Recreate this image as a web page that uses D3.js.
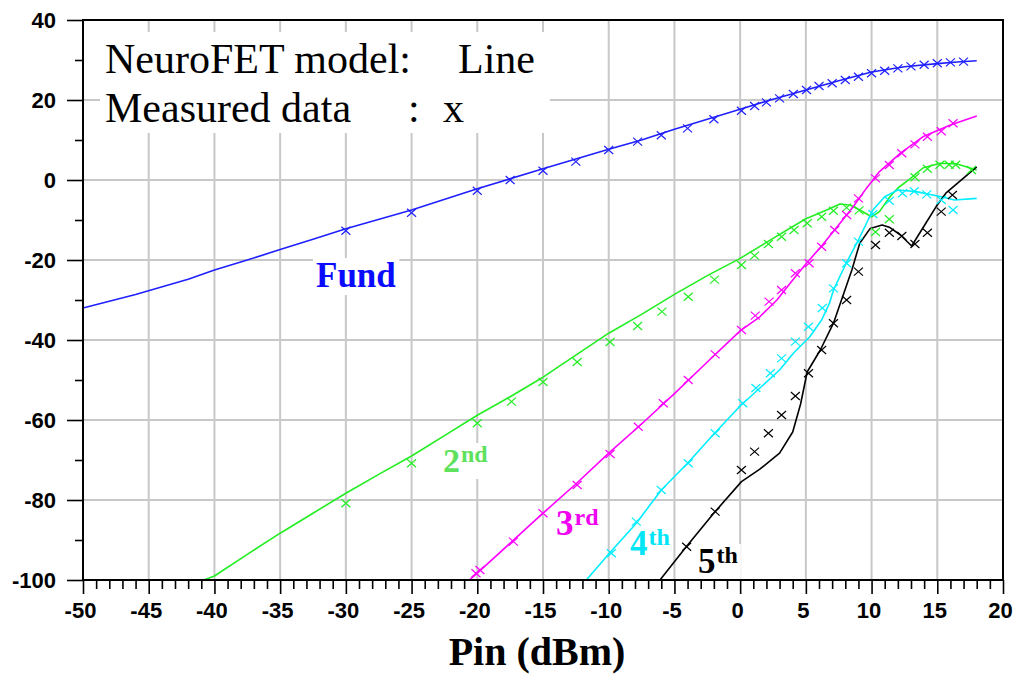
<!DOCTYPE html>
<html>
<head>
<meta charset="utf-8">
<script src="https://cdn.jsdelivr.net/npm/d3@7"></script>
<style>
  html, body { margin: 0; padding: 0; background: #fff; }
  svg { display: block; }
</style>
</head>
<body>
<svg id="chart" width="1013" height="674"></svg>
<script>
// ---------- data ----------
const xTickValues = [-50, -45, -40, -35, -30, -25, -20, -15, -10, -5, 0, 5, 10, 15, 20];
const yTickValues = [-100, -80, -60, -40, -20, 0, 20, 40];

// NeuroFET model curves (Pin in dBm, output power in dBm)
const fundPin   = [-50, -46, -42, -40, -37.5, -35, -32.5, -30, -25, -20, -15, -10, -7.5, -5, -2.5, 0, 2.5, 5, 7.5, 10, 12.5, 15, 16.5, 18];
const fundModel = [-32, -28.6, -24.8, -22.5, -20, -17.4, -14.8, -12.2, -7.5, -2.2, 2.8, 7.7, 10, 12.7, 15.2, 17.7, 20.2, 22.5, 24.8, 27, 28.3, 29.1, 29.5, 29.8];

const h2Pin   = [-40.8, -40, -37.5, -35, -32.5, -30, -27.5, -25, -22.5, -20, -17.5, -15, -12.5, -10, -7.5, -5, -2.5, 0, 2.5, 5, 6.5, 7.6, 8.4, 9.1, 10, 10.6, 11.4, 12, 12.9, 13.9, 15.2, 16.5, 18];
const h2Model = [-100, -99, -93.6, -88.3, -83.3, -78.3, -73.6, -69, -63.9, -58.8, -54.2, -49.3, -43.8, -38.3, -33.6, -28.6, -23.9, -19.6, -14.6, -9.7, -7.6, -6.0, -6.3, -7.5, -9.2, -7.9, -4.2, -2, 0.2, 3.0, 4.2, 4.0, 2.5];

const h3Pin   = [-20.6, -20, -17.5, -15, -12.5, -10, -7.5, -5, -2.5, 0, 1.5, 2.8, 4, 5, 6.2, 7.6, 8.6, 9.6, 10.6, 12.2, 13.9, 16, 18];
const h3Model = [-100, -98.3, -90.8, -83.3, -76, -68.3, -61, -53.4, -45.5, -37.7, -34.2, -30, -25, -21, -16.5, -10.8, -6.7, -2.1, 2.1, 6.7, 10.8, 13.75, 16];

const h4Pin   = [-11.7, -10, -7.9, -6, -4, -2, 0, 1.5, 3, 4.05, 5.3, 6.2, 6.8, 7.1, 8.1, 9, 10.1, 11, 12, 13.4, 15.3, 16.3, 18];
const h4Model = [-100, -93.5, -85.8, -77.5, -70.8, -63.5, -56.5, -52, -47.5, -43.3, -39.2, -35, -30.8, -27.5, -20.6, -15, -7.5, -4.2, -2.5, -2.9, -4.2, -5, -4.6];

const h5Pin   = [-6.1, -4.1, -1.9, 0.1, 1.5, 3, 4, 4.6, 5.1, 6.1, 7.1, 8.5, 9.1, 9.9, 10.8, 11.4, 12.2, 13.05, 13.9, 14.9, 15.65, 18];
const h5Model = [-100, -91.7, -82.9, -75.4, -72.3, -68.3, -63, -56, -48, -42.5, -35.8, -22.5, -15.8, -12.1, -11.25, -11.9, -13.75, -16.5, -12, -6.7, -3.3, 3.3];

// Measured data
const fundMeasPin = [-30, -25, -20, -17.5, -15, -12.5, -10, -7.8, -6, -4, -2, 0.1, 1.1, 2, 3, 4.05, 5.05, 6, 7, 8, 9, 10, 11, 12, 13, 14, 15, 16, 17];
const fundMeas    = [-12.7, -8.2, -2.7, 0, 2.3, 4.6, 7.5, 9.6, 11.2, 12.9, 15.2, 17.3, 18.5, 19.4, 20.4, 21.5, 22.5, 23.5, 24.2, 25, 25.8, 26.7, 27.3, 27.9, 28.4, 28.8, 29.2, 29.4, 29.6];

const h2MeasPin = [-30, -25, -20, -17.4, -15, -12.4, -9.9, -7.8, -5.95, -3.95, -1.95, 0.1, 1.1, 2.15, 3.15, 4.1, 5.1, 6.2, 7.1, 8.1, 9.05, 10.3, 11.35, 13.3, 14.25, 15.2, 15.9, 16.4, 17.6];
const h2Meas    = [-80.8, -70.8, -60.8, -55.4, -50.5, -45.5, -40.5, -36.5, -32.9, -29.2, -24.9, -21.25, -18.9, -16, -14.2, -12.5, -10.8, -9.2, -7.7, -6.9, -7.6, -13, -9.8, 0.7, 2.8, 3.8, 3.8, 3.8, 2.5];

const h3MeasPin = [-20.1, -19.8, -17.25, -15, -12.4, -9.9, -7.75, -5.85, -3.95, -1.9, 0.1, 1.15, 2.2, 3.15, 4.2, 5.25, 6.2, 7.2, 8.1, 9, 10.3, 11.35, 12.3, 13.3, 14.25, 15.3, 16.2];
const h3Meas    = [-98.3, -97.5, -90.4, -83.3, -76.25, -68.5, -61.7, -55.8, -50, -43.6, -37.5, -33.9, -30.4, -27.5, -23.3, -20.8, -16.7, -12.5, -8.75, -4.6, 0.4, 3.75, 6.7, 8.9, 10.8, 12.2, 14.2];

const h4MeasPin = [-9.8, -7.9, -6, -3.95, -1.9, 0.2, 1.2, 2.3, 3.15, 4.2, 5.2, 6.25, 7.1, 8.1, 9, 10.1, 11.35, 12.35, 13.25, 14.2, 15.3, 16.2];
const h4Meas    = [-93.3, -85.4, -77.5, -70.8, -63.3, -55.8, -52, -48.3, -44.6, -40.4, -36.7, -32, -27.1, -20.8, -15.4, -8.5, -5.2, -3.3, -2.8, -3.6, -5, -7.5];

const h5MeasPin = [-4.07, -1.9, 0.1, 1.1, 2.15, 3.15, 4.2, 5.2, 6.2, 7.1, 8.1, 9, 10.3, 11.35, 12.3, 13.3, 14.25, 15.3, 16.15];
const h5Meas    = [-91.7, -82.9, -72.5, -67.9, -63.3, -58.75, -54, -48.3, -42.5, -35.8, -30, -22.9, -16.25, -13.2, -14, -16, -13.2, -7.9, -3.75];

const seriesColors = ["#1f1fff", "#22ee22", "#ff00ff", "#00eeff", "#000000"];
const labelColors  = ["#0a0aff", "#5ee25e", "#f000f0", "#00e6f6", "#000000"];
const seriesLabels = [
  { main: "Fund", sup: "" },
  { main: "2", sup: "nd" },
  { main: "3", sup: "rd" },
  { main: "4", sup: "th" },
  { main: "5", sup: "th" }
];

// ---------- layout ----------
const svg = d3.select("#chart");
const plotLeft = 83, plotRight = 1003, plotTop = 20, plotBottom = 580;

const x = d3.scaleLinear().domain([-50, 20]).range([plotLeft, plotRight]);
const y = d3.scaleLinear().domain([-100, 40]).range([plotBottom, plotTop]);

const serifFont = "'Liberation Serif', 'Times New Roman', serif";
const sansFont = "'Liberation Sans', Arial, sans-serif";
const plainNumber = d => String(d);   // keeps an ASCII hyphen for negatives

// grid
const grid = svg.append("g").attr("stroke", "#c8c8c8").attr("stroke-width", 2);
grid.selectAll("line.v")
  .data(xTickValues.filter(v => v > -50 && v < 20))
  .join("line")
  .attr("class", "v")
  .attr("x1", d => x(d)).attr("x2", d => x(d))
  .attr("y1", plotTop).attr("y2", plotBottom);
grid.selectAll("line.h")
  .data(yTickValues.filter(v => v > -100 && v < 40))
  .join("line")
  .attr("class", "h")
  .attr("x1", plotLeft).attr("x2", plotRight)
  .attr("y1", d => y(d)).attr("y2", d => y(d));

// legend background
svg.append("rect")
  .attr("x", 100).attr("y", 32).attr("width", 450).attr("height", 101)
  .attr("fill", "#fff");

// series label positions
const labelPos = [
  { px: 316, py: 287, size: 35 },
  { px: 443, py: 472, size: 34 },
  { px: 556, py: 535, size: 35 },
  { px: 630, py: 555, size: 35 },
  { px: 698, py: 573, size: 35 }
];
const boxLayer = svg.append("g");
const lineLayer = svg.append("g");
const markLayer = svg.append("g");
const axisLayer = svg.append("g");
const textLayer = svg.append("g");

// model lines
const lineGen = d3.line().x(d => x(d[0])).y(d => y(d[1]));
const models = [
  d3.zip(fundPin, fundModel),
  d3.zip(h2Pin, h2Model),
  d3.zip(h3Pin, h3Model),
  d3.zip(h4Pin, h4Model),
  d3.zip(h5Pin, h5Model)
];
models.forEach((m, i) => {
  lineLayer.append("path")
    .datum(m)
    .attr("d", lineGen)
    .attr("fill", "none")
    .attr("stroke", seriesColors[i])
    .attr("stroke-width", 1.6)
    .attr("stroke-linejoin", "round");
});

// measured markers
const measured = [
  d3.zip(fundMeasPin, fundMeas),
  d3.zip(h2MeasPin, h2Meas),
  d3.zip(h3MeasPin, h3Meas),
  d3.zip(h4MeasPin, h4Meas),
  d3.zip(h5MeasPin, h5Meas)
];
const xMark = "M-4.5,-4L4.5,4M-4.5,4L4.5,-4";
measured.forEach((m, i) => {
  markLayer.append("g").selectAll("path")
    .data(m)
    .join("path")
    .attr("transform", d => `translate(${x(d[0])},${y(d[1])})`)
    .attr("d", xMark)
    .attr("fill", "none")
    .attr("stroke", seriesColors[i])
    .attr("stroke-width", 1.2);
});

// axes
const yAxisMajor = d3.axisLeft(y).tickValues(yTickValues).tickSize(16).tickPadding(11).tickSizeOuter(0).tickFormat(plainNumber);
const yAxisMinor = d3.axisLeft(y).tickValues(d3.range(-90, 40, 20)).tickSize(8).tickSizeOuter(0).tickFormat("");
const xAxisMajor = d3.axisBottom(x).tickValues(xTickValues).tickSize(14).tickPadding(8).tickSizeOuter(0).tickFormat(plainNumber);
const xAxisMinor = d3.axisBottom(x).tickValues(d3.range(-50, 21, 1).filter(v => v % 5 !== 0)).tickSize(9).tickSizeOuter(0).tickFormat("");

function styleAxis(g) {
  g.select(".domain").remove();
  g.selectAll(".tick line").attr("stroke", "#000").attr("stroke-width", 1.6);
  g.selectAll(".tick text")
    .attr("fill", "#000")
    .style("font-family", sansFont)
    .style("font-weight", "bold")
    .style("font-size", "22px");
}
axisLayer.append("g").attr("transform", `translate(${plotLeft},0)`).call(yAxisMinor).call(styleAxis);
axisLayer.append("g").attr("transform", `translate(${plotLeft},0)`).call(yAxisMajor).call(styleAxis);
axisLayer.append("g").attr("transform", `translate(0,${plotBottom})`).call(xAxisMinor).call(styleAxis);
axisLayer.append("g").attr("transform", `translate(0,${plotBottom})`).call(xAxisMajor).call(styleAxis)
  .selectAll(".tick text").attr("dx", -3);

// frame
axisLayer.append("rect")
  .attr("x", plotLeft).attr("y", plotTop)
  .attr("width", plotRight - plotLeft).attr("height", plotBottom - plotTop)
  .attr("fill", "none").attr("stroke", "#000").attr("stroke-width", 2);

// legend text
const legend = textLayer.append("g")
  .style("font-family", serifFont).style("font-size", "42px").attr("fill", "#000");
legend.append("text").attr("x", 105).attr("y", 73).text("NeuroFET model:");
legend.append("text").attr("x", 458).attr("y", 73).text("Line");
legend.append("text").attr("x", 105).attr("y", 122).text("Measured data");
legend.append("text").attr("x", 408).attr("y", 122).text(":");
legend.append("text").attr("x", 443).attr("y", 122).text("x");

// series labels with white backing boxes
seriesLabels.forEach((lab, i) => {
  const p = labelPos[i];
  const t = textLayer.append("text")
    .attr("x", p.px).attr("y", p.py)
    .attr("fill", labelColors[i])
    .style("font-family", serifFont)
    .style("font-weight", "bold")
    .style("font-size", p.size + "px");
  t.append("tspan").text(lab.main);
  if (lab.sup) {
    t.append("tspan").attr("dy", -10).attr("dx", 1).style("font-size", "24px").text(lab.sup);
  }
  const bb = t.node().getBBox();
  boxLayer.append("rect")
    .attr("x", bb.x - 3).attr("y", bb.y + 2)
    .attr("width", bb.width + 6).attr("height", bb.height - 2)
    .attr("fill", "#fff");
});

// x-axis title
textLayer.append("text")
  .attr("x", 537).attr("y", 665)
  .attr("text-anchor", "middle")
  .attr("fill", "#000")
  .style("font-family", serifFont)
  .style("font-weight", "bold")
  .style("font-size", "40px")
  .text("Pin (dBm)");
</script>
</body>
</html>
